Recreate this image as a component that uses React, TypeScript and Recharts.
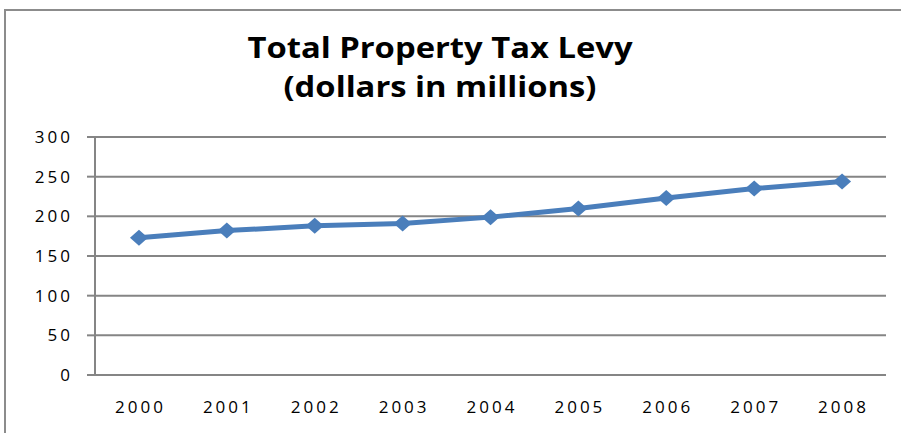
import React from "react";
import { LineChart, Line, XAxis, YAxis, CartesianGrid } from "recharts";

const years = ["2000", "2001", "2002", "2003", "2004", "2005", "2006", "2007", "2008"];
const levy = [173, 182, 188, 191, 199, 210, 223, 235, 244];
const yTicks = [0, 50, 100, 150, 200, 250, 300];

const data = years.map((year, i) => ({ idx: i, year, levy: levy[i] }));
const labelTicks = years.map((_, i) => i);
const boundaryTicks = [...years.map((_, i) => i - 0.5), years.length - 0.5];

const axisColor = "#858585";
const lineColor = "#4A7EBB";
const font = "'Open Sans', sans-serif";

function Diamond(props: { cx?: number; cy?: number; index?: number }) {
  const { cx, cy, index } = props;
  if (cx == null || cy == null) return null;
  const rx = 9;
  const ry = 8;
  return (
    <polygon
      key={`d-${index}`}
      points={`${cx},${cy - ry} ${cx + rx},${cy} ${cx},${cy + ry} ${cx - rx},${cy}`}
      fill={lineColor}
    />
  );
}

export default function App() {
  const tick = { fill: "#000", fontSize: 17, fontFamily: font, letterSpacing: 3 };
  return (
    <div
      style={{
        position: "absolute",
        left: 0,
        top: 0,
        width: 901,
        height: 433,
        overflow: "hidden",
        background: "#fff",
      }}
    >
      <div
        style={{
          position: "absolute",
          left: 4,
          top: 9,
          width: 1000,
          height: 1000,
          borderTop: "2px solid #8c8c8c",
          borderLeft: "2px solid #8c8c8c",
        }}
      />
      {/* title is stretched sideways like the source image */}
      <div
        style={{
          position: "absolute",
          left: 0,
          top: 28,
          width: 880,
          textAlign: "center",
          fontFamily: font,
          fontWeight: 700,
          fontSize: 28,
          lineHeight: "39px",
          color: "#000",
          transform: "scaleX(1.17)",
          transformOrigin: "440px 0",
        }}
      >
        Total Property Tax Levy
        <br />
        (dollars in millions)
      </div>
      <div style={{ position: "absolute", left: 0, top: 0 }}>
        <LineChart width={901} height={433} data={data} margin={{ top: 137, right: 15, bottom: 0, left: 0 }}>
          <CartesianGrid vertical={false} stroke={axisColor} strokeWidth={2} />
          <XAxis
            xAxisId="bounds"
            dataKey="idx"
            type="number"
            domain={[-0.5, years.length - 0.5]}
            ticks={boundaryTicks}
            height={0}
            stroke={axisColor}
            strokeWidth={2}
            tickSize={5}
            tickFormatter={() => ""}
          />
          <XAxis
            xAxisId="years"
            dataKey="idx"
            type="number"
            domain={[-0.5, years.length - 0.5]}
            ticks={labelTicks}
            height={58}
            axisLine={false}
            tickLine={false}
            tickSize={0}
            tickMargin={26}
            tick={{ ...tick, dx: 1.5 }}
            interval={0}
            tickFormatter={(i: number) => years[i] ?? ""}
          />
          <YAxis
            domain={[0, 300]}
            ticks={yTicks}
            width={95}
            stroke={axisColor}
            strokeWidth={2}
            tickSize={8}
            tickMargin={14}
            tick={tick}
            interval={0}
          />
          <Line
            xAxisId="years"
            dataKey="levy"
            type="linear"
            stroke={lineColor}
            strokeWidth={5}
            dot={<Diamond />}
            activeDot={false}
            isAnimationActive={false}
          />
        </LineChart>
      </div>
    </div>
  );
}
